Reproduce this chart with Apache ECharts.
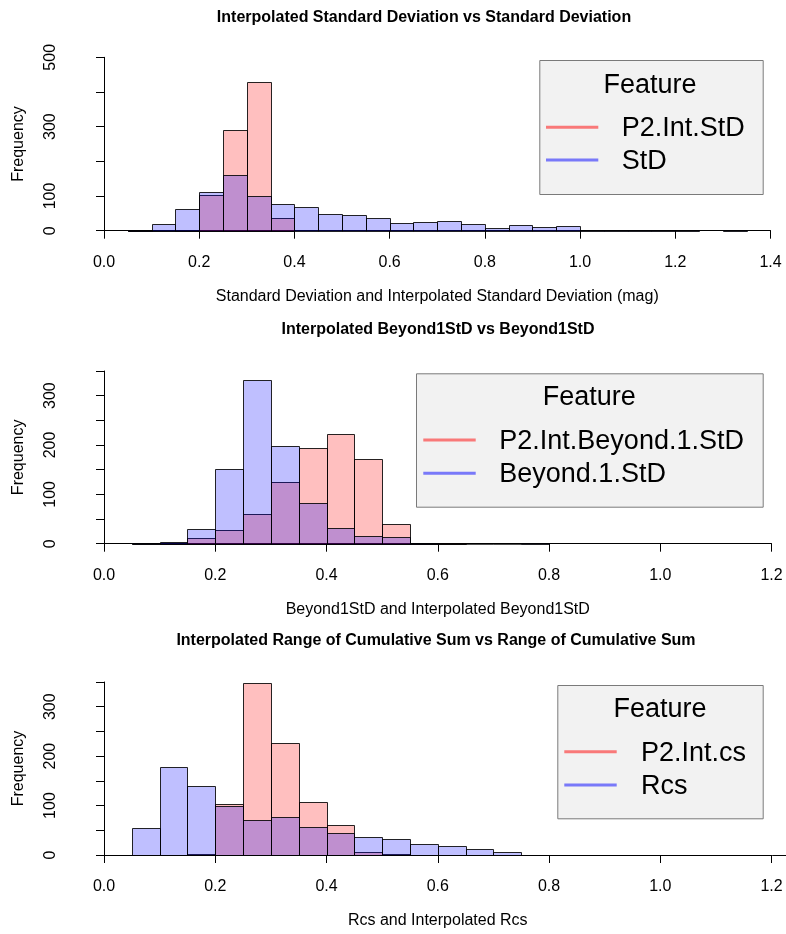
<!DOCTYPE html>
<html><head><meta charset="utf-8">
<script src="https://cdn.jsdelivr.net/npm/echarts@6/dist/echarts.min.js"></script>
<style>html,body{margin:0;padding:0;background:#fff}#c{width:786px;height:934px}</style>
</head><body><div id="c"></div>
<script>
// ---------- DATA ----------
const titles = [
  'Interpolated Standard Deviation vs Standard Deviation',
  'Interpolated Beyond1StD vs Beyond1StD',
  'Interpolated Range of Cumulative Sum vs Range of Cumulative Sum'
];
const xNames = [
  'Standard Deviation and Interpolated Standard Deviation (mag)',
  'Beyond1StD and Interpolated Beyond1StD',
  'Rcs and Interpolated Rcs'
];
const yName = 'Frequency';
const legendTitle = 'Feature';
const seriesNames1 = ['P2.Int.StD', 'StD'];
const seriesNames2 = ['P2.Int.Beyond.1.StD', 'Beyond.1.StD'];
const seriesNames3 = ['P2.Int.cs', 'Rcs'];

// panel 1 : bin edges and counts
const p1Edges = [0.05,0.10,0.15,0.20,0.25,0.30,0.35,0.40,0.45,0.50,0.55,0.60,0.65,0.70,0.75,0.80,0.85,0.90,0.95,1.00,1.05,1.10,1.15,1.20,1.25,1.30,1.35];
const p1Red  = [1,0,3,104,289,428,38];
const p1Blue = [1,18,63,113,160,99,78,68,47,44,36,23,25,28,18,8,15,11,13,1,1,1,1,1,null,1];
// panel 2
const p2Edges = [0.05,0.10,0.15,0.20,0.25,0.30,0.35,0.40,0.45,0.50,0.55,0.60,0.65,0.70,0.75,0.80];
const p2Red  = [0,1,12,28,61,125,194,222,172,39,1,1];
const p2Blue = [1,4,30,152,332,197,82,31,15,13,1,0,0,0,1];
// panel 3
const p3Edges = [0.05,0.10,0.15,0.20,0.25,0.30,0.35,0.40,0.45,0.50,0.55,0.60,0.65,0.70,0.75,0.80,0.85,0.90,0.95,1.00,1.05,1.10,1.15,1.20,1.25];
const p3Red  = [0,0,2,104,347,227,108,61,6,2];
const p3Blue = [54,179,139,100,70,76,56,44,36,32,23,19,13,7,1,1,0,0,0,1,0,0,0,1];

const xMax = [1.4, 1.2, 1.2];
const yMax = [500, 350, 350];
const yInterval = [100, 50, 50];
const yLabelShown = [[0,100,300,500],[0,100,200,300],[0,100,200,300]];

// ---------- STYLE ----------
const FONT = "'Liberation Sans', Arial, sans-serif";
const RED_FILL = 'rgba(255,0,0,0.25)';
const BLUE_FILL = 'rgba(0,0,255,0.25)';
const RED_LINE = 'rgba(255,0,0,0.5)';
const BLUE_LINE = 'rgba(0,0,255,0.5)';
const AX_FS = 16;

const grids = [
  {left:104, top:57.3, width:666.5, height:173.4},
  {left:104, top:371, width:667.5, height:172.7},
  {left:104, top:682, width:667.5, height:173}
];
const titleCenters = [[424,18.5],[438,330.5],[436,642]];

function binData(edges, counts){
  const out = [];
  for (let i=0;i<counts.length;i++){
    if (counts[i]===null) continue;
    out.push([edges[i], edges[i+1], counts[i]]);
  }
  return out;
}
function makeRender(fill){
  return function(params, api){
    const x0 = api.value(0), x1 = api.value(1), v = api.value(2);
    const a = api.coord([x0, v]), b = api.coord([x1, 0]);
    const xa = Math.round(a[0])+0.5, xb = Math.round(b[0])+0.5;
    const ya = Math.round(a[1])+0.5, yb = Math.round(b[1])+0.5;
    return {type:'rect', shape:{x:xa, y:ya, width:xb-xa, height:yb-ya},
      style:{fill:fill, stroke: v===0 ? 'rgba(0,0,0,0.45)' : 'rgba(0,0,0,0.85)', lineWidth:1}};
  };
}

const panels = [
  {edges:p1Edges, red:p1Red, blue:p1Blue, names:seriesNames1},
  {edges:p2Edges, red:p2Red, blue:p2Blue, names:seriesNames2},
  {edges:p3Edges, red:p3Red, blue:p3Blue, names:seriesNames3}
];

const option = {
  animation:false,
  backgroundColor:'#fff',
  title: titles.map((t,i)=>({text:t, left:titleCenters[i][0], top:titleCenters[i][1]-9, textAlign:'center', padding:0,
    textStyle:{fontFamily:FONT, fontWeight:'bold', fontSize:16, color:'#000'}})),
  grid: grids,
  xAxis: grids.map((g,i)=>({type:'value', gridIndex:i, min:0, max:xMax[i], interval:0.2, offset:7,
    axisLine:{show:true, lineStyle:{color:'#000', width:1}},
    axisTick:{show:true, length:8, lineStyle:{color:'#000'}},
    axisLabel:{fontFamily:FONT, fontSize:AX_FS, color:'#000', margin:17, formatter:v=>v.toFixed(1)},
    splitLine:{show:false},
    name:xNames[i], nameLocation:'middle', nameGap:51,
    nameTextStyle:{fontFamily:FONT, fontSize:AX_FS, color:'#000'}})),
  yAxis: grids.map((g,i)=>({type:'value', gridIndex:i, min:0, max:yMax[i], interval:yInterval[i], offset:27,
    axisLine:{show:true, lineStyle:{color:'#000', width:1}},
    axisTick:{show:true, length:8, lineStyle:{color:'#000'}},
    axisLabel:{fontFamily:FONT, fontSize:AX_FS, color:'#000', margin:18, rotate:90,
      formatter:v=> yLabelShown[i].indexOf(v)>=0 ? String(v) : ''},
    splitLine:{show:false},
    name:yName, nameLocation:'middle', nameGap:50,
    nameTextStyle:{fontFamily:FONT, fontSize:AX_FS, color:'#000'}})),
  series: [],
  graphic: []
};

panels.forEach((p,i)=>{
  option.series.push({type:'custom', name:p.names[0], xAxisIndex:i, yAxisIndex:i, clip:false,
    renderItem:makeRender(RED_FILL), encode:{x:[0,1], y:2}, data:binData(p.edges,p.red)});
  option.series.push({type:'custom', name:p.names[1], xAxisIndex:i, yAxisIndex:i, clip:false,
    renderItem:makeRender(BLUE_FILL), encode:{x:[0,1], y:2}, data:binData(p.edges,p.blue)});
});

// legends
const legendBoxes = [
  {box:[539.3,60,223.4,134], ft:[650,85.7], lx:[546,598.3], ly:[127.3,160], tx:621.7},
  {box:[416,373.3,346.7,133.4], ft:[589.3,397.7], lx:[423.3,475.7], ly:[440,473.3], tx:499.3},
  {box:[557.3,685,205.4,133.3], ft:[660,709.3], lx:[564.3,616.7], ly:[751.7,785], tx:641}
];
legendBoxes.forEach((L,i)=>{
  const names = panels[i].names;
  option.graphic.push({type:'rect', shape:{x:L.box[0]+0.5, y:L.box[1]+0.5, width:L.box[2], height:L.box[3]},
    style:{fill:'#f2f2f2', stroke:'#7a7a7a', lineWidth:1}, z:100});
  option.graphic.push({type:'text', x:L.ft[0], y:L.ft[1], z:101,
    style:{text:legendTitle, font:'27px '+FONT, fill:'#000', textAlign:'center', textVerticalAlign:'middle'}});
  [RED_LINE, BLUE_LINE].forEach((c,k)=>{
    option.graphic.push({type:'line', z:101, shape:{x1:L.lx[0], y1:L.ly[k], x2:L.lx[1], y2:L.ly[k]},
      style:{stroke:c, lineWidth:3}});
    option.graphic.push({type:'text', z:101, x:L.tx, y:L.ly[k]+1.5,
      style:{text:names[k], font:'27px '+FONT, fill:'#000', textAlign:'left', textVerticalAlign:'middle'}});
  });
});

const chart = echarts.init(document.getElementById('c'), null, {renderer:'canvas'});
chart.setOption(option);
</script></body></html>
